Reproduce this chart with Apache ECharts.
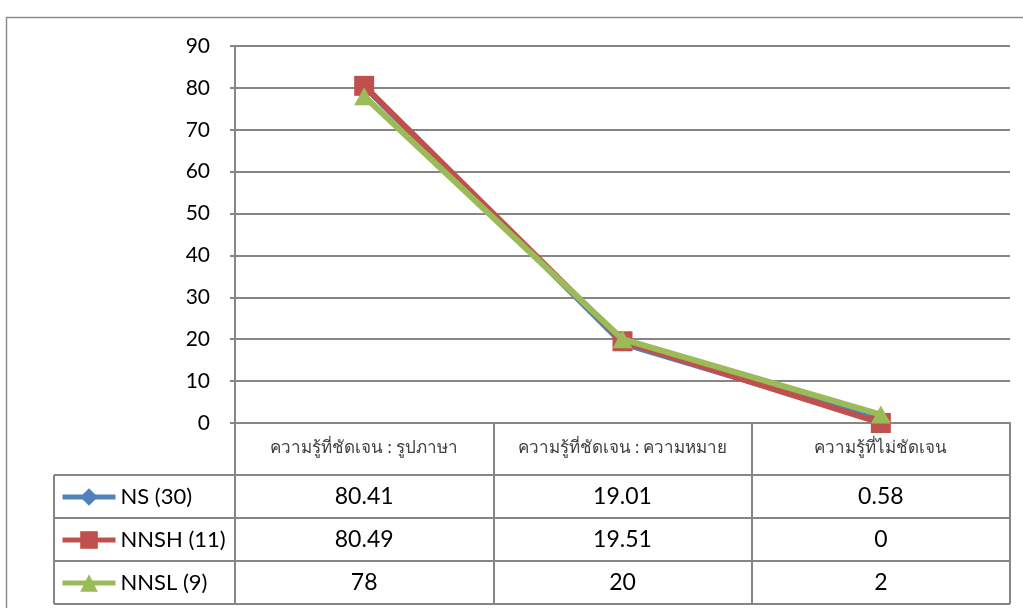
<!DOCTYPE html>
<html>
<head>
<meta charset="utf-8">
<script src="https://cdn.jsdelivr.net/npm/echarts@6/dist/echarts.min.js"></script>
<style>
  html, body { margin: 0; padding: 0; background: #fff; }
  #chart { width: 1023px; height: 608px; }
</style>
</head>
<body>
<div id="chart"></div>
<script>
// data
const categories = ['ความรู้ที่ชัดเจน : รูปภาษา', 'ความรู้ที่ชัดเจน : ความหมาย', 'ความรู้ที่ไม่ชัดเจน'];
const seriesNames = ['NS (30)', 'NNSH (11)', 'NNSL (9)'];
const nsValues = [80.41, 19.01, 0.58];
const nnshValues = [80.49, 19.51, 0];
const nnslValues = [78, 20, 2];
const yTicks = [0, 10, 20, 30, 40, 50, 60, 70, 80, 90];

const FONT = "Lato, 'Noto Sans', 'DejaVu Sans', sans-serif";
const GRID_COLOR = '#868686';
const colors = ['#4F81BD', '#C0504D', '#9BBB59'];
const symbols = ['diamond', 'rect', 'triangle'];
const symbolSizes = [14, 20, [20, 18]];

// layout of the plot and the data table under it
const GRID = { left: 235, right: 13, top: 46, bottom: 185 };
const TABLE_LEFT = 54;
const HEADER_BOTTOM = 475;
const ROW_HEIGHT = 43;

const chart = echarts.init(document.getElementById('chart'));

const allValues = [nsValues, nnshValues, nnslValues];

const series = seriesNames.map((name, i) => ({
  name,
  type: 'line',
  data: allValues[i],
  symbol: symbols[i],
  symbolSize: symbolSizes[i],
  lineStyle: { width: 6, color: colors[i] },
  itemStyle: { color: colors[i] },
  z: 2 + i,
}));

chart.setOption({
  animation: false,
  textStyle: { fontFamily: FONT },
  grid: { left: GRID.left, right: GRID.right, top: GRID.top, bottom: GRID.bottom },
  legend: {
    data: seriesNames,
    orient: 'vertical',
    left: 60,
    top: 486,
    padding: 0,
    itemWidth: 53,
    itemHeight: 22,
    itemGap: 21,
    lineStyle: { width: 5 },
    textStyle: { fontSize: 22, color: '#000', fontFamily: FONT },
  },
  xAxis: {
    type: 'category',
    data: categories,
    boundaryGap: true,
    axisLine: { lineStyle: { color: GRID_COLOR, width: 2 } },
    // ticks at the category boundaries double as the table's column lines
    axisTick: { show: true, interval: 0, length: 181, lineStyle: { color: GRID_COLOR, width: 2 } },
    axisLabel: { interval: 0, hideOverlap: false, margin: 16, fontSize: 17, color: '#404040', fontFamily: FONT },
  },
  yAxis: {
    type: 'value',
    min: yTicks[0],
    max: yTicks[yTicks.length - 1],
    interval: 10,
    axisLine: { show: true, lineStyle: { color: GRID_COLOR, width: 2 } },
    axisTick: { show: true, length: 5, lineStyle: { color: GRID_COLOR, width: 2 } },
    axisLabel: { margin: 25, fontSize: 21, color: '#000', fontFamily: FONT },
    splitLine: { lineStyle: { color: GRID_COLOR, width: 2 } },
  },
  series,
});

// data table: borders and value cells, placed from the chart's own x scale
const tableRight = 1023 - GRID.right;
const tableBottom = HEADER_BOTTOM + ROW_HEIGHT * seriesNames.length;
const lineStyle = { stroke: GRID_COLOR, lineWidth: 2 };
const graphics = [
  // outer frame of the chart area
  { type: 'polyline', shape: { points: [[6.5, 608], [6.5, 17.5], [1023, 17.5]] }, style: { stroke: '#8c8c8c', lineWidth: 1.5, fill: null }, silent: true },
  { type: 'line', shape: { x1: TABLE_LEFT, y1: HEADER_BOTTOM, x2: TABLE_LEFT, y2: tableBottom }, style: lineStyle, silent: true },
];
for (let r = 0; r <= seriesNames.length; r++) {
  const y = HEADER_BOTTOM + ROW_HEIGHT * r;
  graphics.push({ type: 'line', shape: { x1: TABLE_LEFT, y1: y, x2: tableRight, y2: y }, style: lineStyle, silent: true });
}
allValues.forEach((vals, r) => {
  const cy = HEADER_BOTTOM + ROW_HEIGHT * r + ROW_HEIGHT / 2;
  vals.forEach((v, c) => {
    const cx = chart.convertToPixel({ xAxisIndex: 0 }, categories[c]);
    graphics.push({
      type: 'text',
      x: cx,
      y: cy,
      style: { text: String(v), font: '23px ' + FONT, fill: '#000', align: 'center', verticalAlign: 'middle' },
      silent: true,
    });
  });
});
chart.setOption({ graphic: graphics });
</script>
</body>
</html>
